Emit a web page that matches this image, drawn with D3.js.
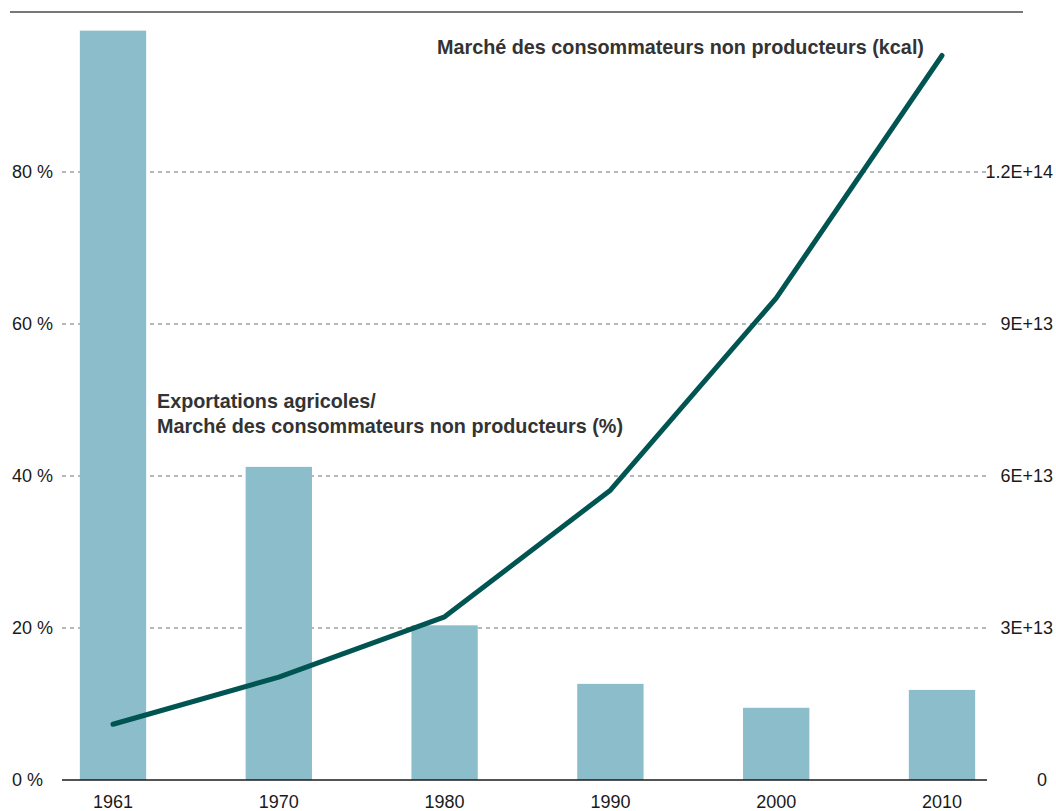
<!DOCTYPE html>
<html>
<head>
<meta charset="utf-8">
<script src="https://cdn.jsdelivr.net/npm/d3@7"></script>
<style>
  html, body { margin: 0; padding: 0; background: #fff; }
  svg { display: block; font-family: "Liberation Sans", Arial, Helvetica, sans-serif; }
</style>
</head>
<body>
<svg id="chart" width="1056" height="811"></svg>
<script>
const years = ["1961", "1970", "1980", "1990", "2000", "2010"];
const exportShare = [98.6, 41.2, 20.35, 12.65, 9.5, 11.85];          // % (left axis)
const marketKcal = [1.1e13, 2.03e13, 3.22e13, 5.72e13, 9.51e13, 1.43e14]; // kcal (right axis)
const leftTicks = [0, 20, 40, 60, 80];
const rightTicks = [0, 3e13, 6e13, 9e13, 1.2e14];
const rightTickLabels = ["0", "3E+13", "6E+13", "9E+13", "1.2E+14"];
const lineLabel = "Marché des consommateurs non producteurs (kcal)";
const barLabel = ["Exportations agricoles/", "Marché des consommateurs non producteurs (%)"];

const svg = d3.select("#chart");
const x = d3.scalePoint().domain(years).range([113, 942]);
const barW = x.step() * 0.4;
const yL = d3.scaleLinear().domain([0, 80]).range([780, 172]);
const yR = d3.scaleLinear().domain([0, 1.2e14]).range([780, 172]);
const gridX0 = 62, gridX1 = 987;

// top rule
svg.append("line").attr("x1", 10).attr("x2", 1023).attr("y1", 12).attr("y2", 12)
  .attr("stroke", "#4a4a4a").attr("stroke-width", 1.3);

// gridlines
svg.append("g").selectAll("line").data(leftTicks.filter(d => d > 0)).join("line")
  .attr("x1", gridX0).attr("x2", gridX1)
  .attr("y1", d => yL(d)).attr("y2", d => yL(d))
  .attr("stroke", "#707070").attr("stroke-width", 1).attr("stroke-dasharray", "4,4");

// bars
svg.append("g").selectAll("rect").data(years).join("rect")
  .attr("x", d => x(d) - barW / 2)
  .attr("width", barW)
  .attr("y", (d, i) => yL(exportShare[i]))
  .attr("height", (d, i) => yL(0) - yL(exportShare[i]))
  .attr("fill", "#8bbdcb");

// baseline
svg.append("line").attr("x1", gridX0).attr("x2", gridX1)
  .attr("y1", yL(0)).attr("y2", yL(0))
  .attr("stroke", "#1a1a1a").attr("stroke-width", 1.5);

// line
const line = d3.line().x((d, i) => x(years[i])).y(d => yR(d));
svg.append("path").datum(marketKcal).attr("d", line)
  .attr("fill", "none").attr("stroke", "#005552").attr("stroke-width", 5)
  .attr("stroke-linecap", "round").attr("stroke-linejoin", "round");

// left axis labels
svg.append("g").selectAll("text").data(leftTicks).join("text")
  .attr("x", 12).attr("y", d => yL(d))
  .attr("dy", "0.35em")
  .attr("font-size", 18).attr("fill", "#1a1a1a")
  .text(d => d + " %");

// right axis labels
svg.append("g").selectAll("text").data(rightTicks).join("text")
  .attr("x", d => d === 0 ? 1047 : 1053).attr("y", d => yR(d))
  .attr("dy", "0.35em").attr("text-anchor", "end")
  .attr("font-size", 18).attr("fill", "#1a1a1a")
  .text((d, i) => rightTickLabels[i]);

// x labels
svg.append("g").selectAll("text").data(years).join("text")
  .attr("x", d => x(d)).attr("y", 808)
  .attr("text-anchor", "middle")
  .attr("font-size", 18).attr("fill", "#1a1a1a")
  .text(d => d);

// annotations
svg.append("text").attr("x", 437).attr("y", 54)
  .attr("font-size", 19.8).attr("font-weight", "bold").attr("fill", "#333")
  .text(lineLabel);
const t = svg.append("text").attr("x", 157).attr("y", 408)
  .attr("font-size", 19.8).attr("font-weight", "bold").attr("fill", "#333");
t.selectAll("tspan").data(barLabel).join("tspan")
  .attr("x", 157).attr("dy", (d, i) => i === 0 ? 0 : 25)
  .text(d => d);
</script>
</body>
</html>
